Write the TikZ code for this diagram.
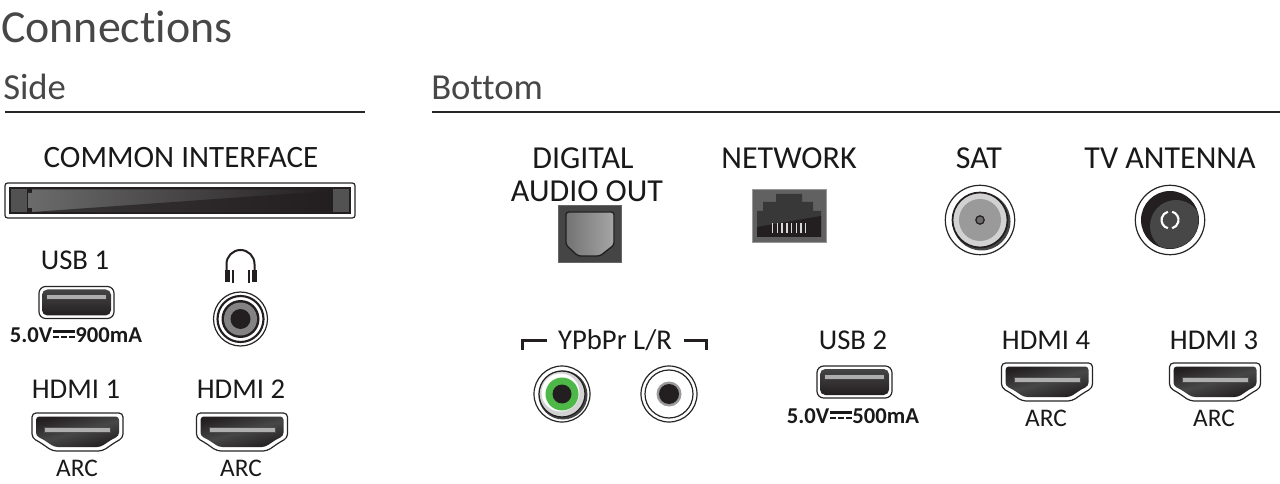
\documentclass[tikz,border=0pt]{standalone}
\usepackage{fontspec}
\setmainfont[Ligatures=NoCommon]{Carlito}
\usetikzlibrary{calc}

\definecolor{portdark}{HTML}{231F20}
\definecolor{portmid}{HTML}{454545}
\definecolor{portgray}{HTML}{9A9A9A}
\definecolor{portlight}{HTML}{D2D2D2}
\definecolor{jackgreen}{HTML}{4DB848}

\newcommand{\dcmark}{\makebox[1.02em][l]{\hspace{.02em}\rule[.42em]{1em}{.12em}\hspace{-1em}\rule[.18em]{.27em}{.12em}\hspace{.095em}\rule[.18em]{.27em}{.12em}\hspace{.095em}\rule[.18em]{.27em}{.12em}}}

\tikzset{
  heading/.style={anchor=base west,inner sep=0pt,text=black!72,font=\fontsize{27.5}{27.5}\selectfont},
  bigheading/.style={anchor=base west,inner sep=0pt,text=black!72,font=\fontsize{34.4}{34.4}\selectfont},
  portlabel/.style={inner sep=0pt,text=black!90,font=\fontsize{21.5}{21.5}\selectfont},
  widelabel/.style={inner sep=0pt,text=black!90,font=\fontsize{24}{24}\selectfont},
  smalllabel/.style={inner sep=0pt,text=black!90,font=\fontsize{19}{19}\selectfont},
  powerlabel/.style={inner sep=0pt,text=black!90,font=\bfseries\fontsize{17}{17}\selectfont},
  headrule/.style={line width=.8pt,black!85},
  thinring/.style={draw=black!85,line width=.9pt},
  hdmiport/.pic={
    \draw[thinring,fill=white,rounded corners=3pt] (-45.5,-19) -- (45.5,-19) -- (45.5,6) -- (38,10) -- (25,19) -- (-25,19) -- (-38,10) -- (-45.5,6) -- cycle;
    \shade[top color=portdark,bottom color=portdark,middle color=black!72,shading angle=15,rounded corners=2.5pt] (-41.5,-15.5) -- (41.5,-15.5) -- (41.5,4) -- (35,7) -- (23,15) -- (-23,15) -- (-35,7) -- (-41.5,4) -- cycle;
    \draw[black!70,fill=portgray!80!white,line width=.5pt] (-33,-4.5) rectangle (33,0);
  },
  usbport/.pic={
    \draw[thinring,fill=white,rounded corners=5pt] (-37.5,-16) rectangle (37.5,16);
    \shade[top color=portmid,bottom color=portdark,rounded corners=4pt] (-34.5,-13) rectangle (34.5,13);
    \draw[black!75,fill=portgray!80!white,line width=.5pt] (-30,-8) rectangle (30,-3);
  }
}

\begin{document}
\begin{tikzpicture}[x=.75pt,y=-.75pt]
\useasboundingbox (0,0) rectangle (1280,484);
% headings
\node[bigheading] (connections) at (1,43) {Connections};
\node[heading] (side) at (3,100) {Side};
\node[heading] (bottom) at (431,100) {Bottom};
\draw[headrule] (5,112) -- (365,112);
\draw[headrule] (432,112) -- (1280,112);
% labels
\node[widelabel,font=\fontsize{23.3}{23.3}\selectfont] (common) at (181,158) {COMMON INTERFACE};
\node[portlabel] (usbone) at (75,260) {USB 1};
\node[powerlabel] (powerone) at (76,335) {5.0V\dcmark 900mA};
\node[portlabel] (hdmione) at (76,389) {HDMI 1};
\node[portlabel] (hdmitwo) at (241,389) {HDMI 2};
\node[smalllabel] (arcone) at (77,468) {ARC};
\node[smalllabel] (arctwo) at (241,468) {ARC};
\node[widelabel] (digital) at (583,158) {DIGITAL};
\node[widelabel] (audio) at (587,191) {AUDIO OUT};
\node[widelabel] (network) at (789,158) {NETWORK};
\node[widelabel] (sat) at (979,158) {SAT};
\node[widelabel] (antenna) at (1170,158) {TV ANTENNA};
\node[portlabel] (ypbpr) at (615,340) {YPbPr L/R};
\node[portlabel] (usbtwo) at (853,340) {USB 2};
\node[powerlabel] (powertwo) at (853,416) {5.0V\dcmark 500mA};
\node[portlabel] (hdmifour) at (1046,340) {HDMI 4};
\node[portlabel] (hdmithree) at (1214,340) {HDMI 3};
\node[smalllabel] (arcfour) at (1046,418) {ARC};
\node[smalllabel] (arcthree) at (1214,418) {ARC};
% common interface slot
\draw[thinring,fill=white,rounded corners=2pt] (5,183) rectangle (355,218);
\fill[portdark] (9,187) rectangle (351,214);
\fill[black!68] (11,189.5) rectangle (27,212);
\fill[black!68] (333,189.5) rectangle (349,212);
\shade[left color=black!58,right color=portdark] (32,189.5) -- (329,189.5) -- (329,193) -- (332,193) -- (332,208) -- (329,208) -- (329,212) -- (32,212) -- (32,208) -- (28,208) -- (28,193) -- (32,193) -- cycle;
\fill[portdark,opacity=.7] (32,212) -- (329,191) -- (329,212) -- cycle;
% usb and hdmi
\foreach \x/\y in {76.5/302.5,854.5/382}
  \pic at (\x,\y) {usbport};
\foreach \x/\y in {77.5/432,242/432,1047/382,1215/382}
  \pic at (\x,\y) {hdmiport};
% headphones
\draw[portdark,line width=1.5pt] (226.5,270) -- (226.5,264) arc (180:360:14) -- (254.5,270);
\foreach \x in {225,252} \fill[portdark] (\x,270) rectangle (\x+5,282);
\foreach \x in {232,248} \fill[portdark] (\x,270) rectangle (\x+2,283);
% headphone jack
\draw[thinring,fill=white] (240.5,319) circle [radius=27];
\draw[portdark,line width=1.6pt,fill=white] (240.5,319) circle [radius=23];
\fill[portdark] (240.5,319) circle [radius=19];
\fill[portgray!85!black] (240.5,319) circle [radius=16.5];
\fill[portdark] (240.5,319) circle [radius=10];
% optical
\draw[black!60,fill=portmid] (558,205) rectangle (621,262);
\shade[draw=portdark,line width=1pt,left color=black!55,right color=black!35,rounded corners=2pt] (566,212) -- (614,212) -- (614,245) -- (600,256) -- (578,256) -- (566,245) -- cycle;
% network
\draw[black!40,fill=black!62] (752,189) rectangle (826,242);
\fill[black!78] (776,194) -- (802,194) -- (802,202) -- (813,202) -- (813,211) -- (821,211) -- (821,237) -- (757,237) -- (757,211) -- (763,211) -- (763,202) -- (776,202) -- cycle;
\fill[portdark] (757,227) -- (821,216) -- (821,237) -- (757,237) -- cycle;
\foreach \n in {0,...,7}
  \fill[white!85!black] (772+\n*4.7,223) rectangle (773.4+\n*4.7,233);
% sat
\draw[thinring,fill=white] (980,220) circle [radius=34.7];
\fill[portmid] (981.5,221.5) circle [radius=29];
\draw[portdark,line width=1.3pt,fill=portlight] (980,220) circle [radius=27.5];
\fill[portgray] (980,220) circle [radius=21];
\draw[portdark,line width=.9pt,fill=portgray!70!black] (980,220) circle [radius=4.2];
% tv antenna
\draw[thinring,fill=white] (1170,220) circle [radius=34.7];
\fill[portdark] (1170,220) circle [radius=29];
\begin{scope}
\clip (1170,220) circle [radius=28.5];
\fill[black!72] (1176,226) circle [radius=26];
\end{scope}
\foreach \a in {-75,105}
  \draw[white,line width=1.6pt] ($(1170,220)+(\a:8.5)$) arc (\a:\a+150:8.5);
% ypbpr bracket
\draw[portdark,line width=1.6pt] (522.5,350) -- (522.5,340.5) -- (547,340.5);
\draw[portdark,line width=1.6pt] (684,340.5) -- (706.5,340.5) -- (706.5,350);
% green jack
\draw[thinring,fill=white] (562,394) circle [radius=28];
\fill[portmid] (563,395) circle [radius=24.5];
\draw[portdark,line width=.9pt,fill=portlight] (562,394) circle [radius=23];
\fill[white] (560.5,392.5) circle [radius=19];
\fill[jackgreen] (562,394) circle [radius=16.5];
\fill[portdark] (562,394) circle [radius=9.5];
% white jack
\draw[thinring,fill=white] (669,394) circle [radius=28];
\draw[thinring,fill=white] (669,394) circle [radius=24];
\fill[portgray] (669,394) circle [radius=12.5];
\fill[portdark] (669,394) circle [radius=10];
\end{tikzpicture}
\end{document}
